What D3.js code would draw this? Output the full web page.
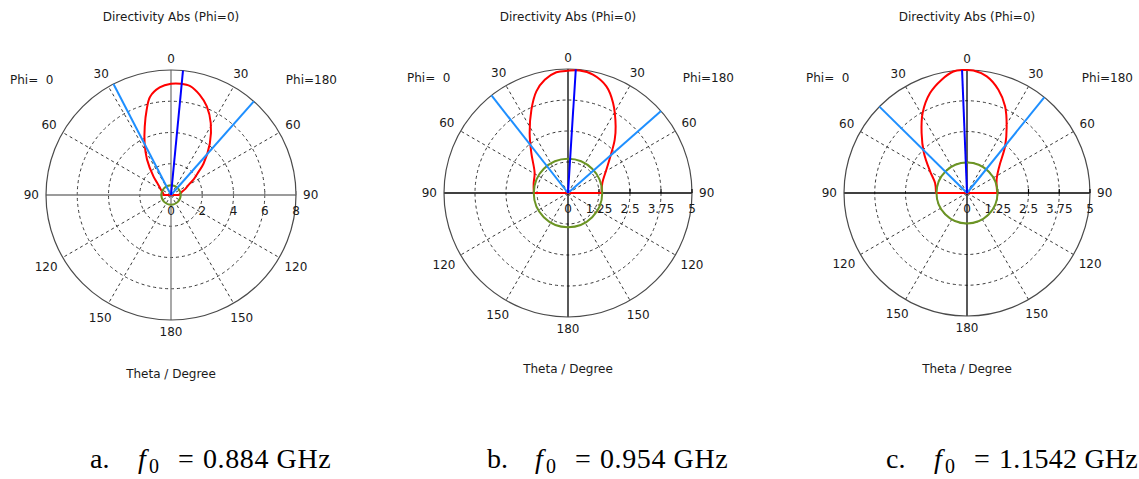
<!DOCTYPE html>
<html>
<head>
<meta charset="utf-8">
<script src="https://cdn.jsdelivr.net/npm/d3@7"></script>
<style>
  body { margin: 0; background: #fff; }
  text { font-family: "DejaVu Sans", sans-serif; font-size: 12px; fill: #1a1a1a; }
  text.cap { font-family: "Liberation Serif", "DejaVu Serif", serif; font-size: 28px; fill: #000; }
</style>
</head>
<body>
<svg id="chart" width="1139" height="479"></svg>
<script>
'use strict';

// ---- data (theta in degrees: negative = Phi=0 side, positive = Phi=180 side) ----
const thetaLabels = [0, 30, 60, 90, 120, 150, 180];
const titleText = 'Directivity Abs (Phi=0)';
const axisText = 'Theta / Degree';

const ticksA = [0, 2, 4, 6, 8];
const ticksB = [0, 1.25, 2.5, 3.75, 5];
const ticksC = [0, 1.25, 2.5, 3.75, 5];

const thetaA = [-90, -80, -70, -58, -50, -43.5, -34, -27, -21, -16, -12, -6, 0, 5, 10, 16, 22, 29, 37, 46, 50, 55, 60, 67, 75, 90];
const dirA   = [0.47, 0.5, 0.6, 0.82, 1.1, 1.62, 2.75, 3.72, 4.69, 5.66, 6.43, 6.92, 7.12, 7.15, 7.08, 6.67, 6.12, 5.25, 4.13, 2.9, 2.3, 1.8, 1.3, 1.0, 0.7, 0.5];

const thetaB = [-90, -74, -59, -42.5, -32.6, -23.7, -17.3, -11.6, -5.5, 0, 5.4, 11.9, 19.8, 26.6, 35.6, 41.2, 47.3, 58.7, 73.8, 90];
const dirB   = [1.38, 1.44, 1.57, 2.19, 2.87, 3.67, 4.29, 4.66, 4.89, 4.93, 4.96, 4.88, 4.57, 4.06, 3.30, 2.86, 2.38, 1.81, 1.44, 1.35];

const thetaC = [-90, -72.6, -59.6, -47.1, -37.1, -29, -20.3, -12.6, -6.4, -1.7, 3, 9.6, 16.9, 23.7, 30.8, 39.2, 50.5, 65.8, 90];
const dirC   = [1.26, 1.36, 1.74, 2.39, 3.06, 3.72, 4.33, 4.72, 4.97, 5.0, 4.99, 4.81, 4.39, 3.85, 3.15, 2.45, 1.70, 1.32, 1.23];

// main lobe direction, 3 dB beam edges, green level circle
const mainDir   = [5.5, 3.6, -2.3];
const beamLeft  = [-27.4, -38.1, -45.4];
const beamRight = [41.5, 48.6, 38.9];
const levelDir  = [0.62, 1.38, 1.24];

const capLetters = ['a.', 'b.', 'c.'];
const capValues  = ['0.884 GHz', '0.954 GHz', '1.1542 GHz'];

// ---- layout ----
const panels = [
  { cx: 171, cy: 195, R: 125, ticks: ticksA, theta: thetaA, dir: dirA, axis: '#7a7a7a', ty: 179 },
  { cx: 568, cy: 193, R: 124, ticks: ticksB, theta: thetaB, dir: dirB, axis: '#000', ty: 176 },
  { cx: 967, cy: 193, R: 123, ticks: ticksC, theta: thetaC, dir: dirC, axis: '#000', ty: 176 }
];

const svg = d3.select('#chart');
svg.append('rect').attr('width', 1139).attr('height', 479).attr('fill', '#fff');

const rad = d => d * Math.PI / 180;

panels.forEach((p, i) => {
  const g = svg.append('g').attr('transform', 'translate(' + p.cx + ',' + p.cy + ')');
  const max = p.ticks[p.ticks.length - 1];
  const r = d3.scaleLinear().domain([0, max]).range([0, p.R]);

  // dashed rings
  g.selectAll('circle.ring').data(p.ticks.slice(1, -1)).enter().append('circle')
    .attr('class', 'ring').attr('r', d => r(d))
    .attr('fill', 'none').attr('stroke', '#222').attr('stroke-width', 0.9)
    .attr('stroke-dasharray', '3,3');

  // dashed spokes
  const spokes = [30, 60, 120, 150, -30, -60, -120, -150];
  g.selectAll('line.spoke').data(spokes).enter().append('line')
    .attr('class', 'spoke')
    .attr('x2', d => p.R * Math.sin(rad(d)))
    .attr('y2', d => -p.R * Math.cos(rad(d)))
    .attr('stroke', '#222').attr('stroke-width', 0.9).attr('stroke-dasharray', '3,3');

  // solid axes
  g.append('line').attr('x1', -p.R).attr('x2', p.R).attr('stroke', p.axis).attr('stroke-width', 1.3);
  g.append('line').attr('y1', -p.R).attr('y2', p.R).attr('stroke', p.axis).attr('stroke-width', 1.3);

  // outer circle
  g.append('circle').attr('r', p.R).attr('fill', 'none').attr('stroke', '#4a4a4a').attr('stroke-width', 1.2);

  // radial ticks + labels
  g.selectAll('line.tick').data(p.ticks.slice(1)).enter().append('line')
    .attr('class', 'tick').attr('x1', d => r(d)).attr('x2', d => r(d))
    .attr('y1', 0).attr('y2', -4).attr('stroke', p.axis).attr('stroke-width', 1.2);
  g.selectAll('text.rt').data(p.ticks).enter().append('text')
    .attr('class', 'rt').attr('x', d => r(d)).attr('y', 16)
    .attr('text-anchor', 'middle').attr('dominant-baseline', 'central')
    .text(d => d);

  // theta labels both sides
  const tl = [];
  thetaLabels.forEach(t => {
    tl.push(t);
    if (t > 0 && t < 180) tl.push(-t);
  });
  g.selectAll('text.tl').data(tl).enter().append('text')
    .attr('class', 'tl').attr('text-anchor', 'middle').attr('dominant-baseline', 'central')
    .text(d => Math.abs(d))
    .each(function (d) {
      const bb = this.getBBox();
      const s = Math.sin(rad(d)), c = Math.cos(rad(d));
      const off = p.R + 7 + Math.abs(s) * bb.width / 2 + Math.abs(c) * 4.5;
      d3.select(this).attr('x', off * s).attr('y', -off * c);
    });

  // directivity curve, closed straight across theta=90
  const pts = p.theta.map((t, k) => [t, p.dir[k]]);
  const line = d3.lineRadial().angle(d => rad(d[0])).radius(d => r(d[1])).curve(d3.curveCatmullRom);
  g.append('path').attr('d', line(pts) + 'Z')
    .attr('fill', 'none').attr('stroke', '#ff0000').attr('stroke-width', 2);

  // level circle
  g.append('circle').attr('r', r(levelDir[i])).attr('fill', 'none')
    .attr('stroke', '#6b9423').attr('stroke-width', 2);

  // beam width lines
  g.selectAll('line.bw').data([beamLeft[i], beamRight[i]]).enter().append('line')
    .attr('class', 'bw')
    .attr('x2', d => p.R * Math.sin(rad(d)))
    .attr('y2', d => -p.R * Math.cos(rad(d)))
    .attr('stroke', '#1e8fff').attr('stroke-width', 2);

  // main lobe direction
  g.append('line')
    .attr('x2', p.R * Math.sin(rad(mainDir[i])))
    .attr('y2', -p.R * Math.cos(rad(mainDir[i])))
    .attr('stroke', '#0000ff').attr('stroke-width', 2);

  // texts
  svg.append('text').attr('x', p.cx).attr('y', 17).attr('text-anchor', 'middle')
    .attr('dominant-baseline', 'central').text(titleText);
  svg.append('text').attr('x', p.cx - 161).attr('y', p.cy - 115).attr('dominant-baseline', 'central')
    .style('white-space', 'pre').text('Phi=  0');
  svg.append('text').attr('x', p.cx + 166).attr('y', p.cy - 115).attr('text-anchor', 'end')
    .attr('dominant-baseline', 'central').text('Phi=180');
  svg.append('text').attr('x', p.cx).attr('y', p.cy + p.ty).attr('text-anchor', 'middle')
    .attr('dominant-baseline', 'central').text(axisText);

  // caption
  const cy = 468;
  svg.append('text').attr('class', 'cap').attr('x', p.cx - 81).attr('y', cy).text(capLetters[i]);
  svg.append('text').attr('class', 'cap').attr('x', p.cx - 33).attr('y', cy)
    .attr('font-style', 'italic').text('f');
  svg.append('text').attr('class', 'cap').attr('x', p.cx - 22).attr('y', cy + 5)
    .style('font-size', '20px').text('0');
  svg.append('text').attr('class', 'cap').attr('x', p.cx + 7).attr('y', cy).text('=');
  svg.append('text').attr('class', 'cap').attr('x', p.cx + 32).attr('y', cy)
    .style('letter-spacing', i === 2 ? '0.2px' : '0.6px').text(capValues[i]);
});
</script>
</body>
</html>
